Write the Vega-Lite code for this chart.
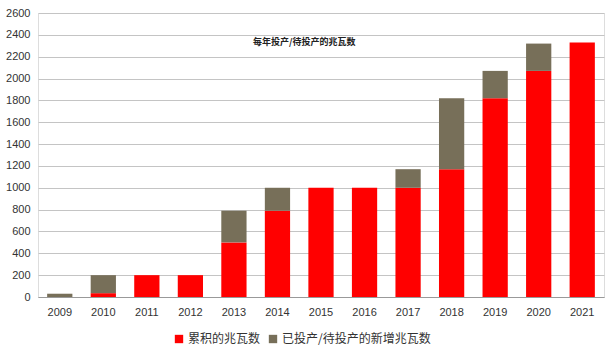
{
  "$schema": "https://vega.github.io/schema/vega-lite/v6.json",
  "width": 566,
  "height": 284,
  "autosize": {"type": "none"},
  "padding": {"left": 38, "top": 13, "right": 3, "bottom": 54},
  "background": "white",
  "title": {
    "text": "每年投产/待投产的兆瓦数",
    "font": "Noto Sans CJK SC",
    "fontSize": 9,
    "fontWeight": "bold",
    "color": "#222",
    "anchor": "start",
    "frame": "group",
    "orient": "top",
    "baseline": "top",
    "offset": 0,
    "dx": 215,
    "dy": 40
  },
  "data": {
    "values": [
      {"year": "2009", "series": "累积的兆瓦数", "ord": 1, "value": 0},
      {"year": "2009", "series": "已投产/待投产的新增兆瓦数", "ord": 2, "value": 30},
      {"year": "2010", "series": "累积的兆瓦数", "ord": 1, "value": 35},
      {"year": "2010", "series": "已投产/待投产的新增兆瓦数", "ord": 2, "value": 165},
      {"year": "2011", "series": "累积的兆瓦数", "ord": 1, "value": 200},
      {"year": "2011", "series": "已投产/待投产的新增兆瓦数", "ord": 2, "value": 0},
      {"year": "2012", "series": "累积的兆瓦数", "ord": 1, "value": 200},
      {"year": "2012", "series": "已投产/待投产的新增兆瓦数", "ord": 2, "value": 0},
      {"year": "2013", "series": "累积的兆瓦数", "ord": 1, "value": 500},
      {"year": "2013", "series": "已投产/待投产的新增兆瓦数", "ord": 2, "value": 290},
      {"year": "2014", "series": "累积的兆瓦数", "ord": 1, "value": 790},
      {"year": "2014", "series": "已投产/待投产的新增兆瓦数", "ord": 2, "value": 210},
      {"year": "2015", "series": "累积的兆瓦数", "ord": 1, "value": 1000},
      {"year": "2015", "series": "已投产/待投产的新增兆瓦数", "ord": 2, "value": 0},
      {"year": "2016", "series": "累积的兆瓦数", "ord": 1, "value": 1000},
      {"year": "2016", "series": "已投产/待投产的新增兆瓦数", "ord": 2, "value": 0},
      {"year": "2017", "series": "累积的兆瓦数", "ord": 1, "value": 1000},
      {"year": "2017", "series": "已投产/待投产的新增兆瓦数", "ord": 2, "value": 170},
      {"year": "2018", "series": "累积的兆瓦数", "ord": 1, "value": 1170},
      {"year": "2018", "series": "已投产/待投产的新增兆瓦数", "ord": 2, "value": 650},
      {"year": "2019", "series": "累积的兆瓦数", "ord": 1, "value": 1820},
      {"year": "2019", "series": "已投产/待投产的新增兆瓦数", "ord": 2, "value": 250},
      {"year": "2020", "series": "累积的兆瓦数", "ord": 1, "value": 2070},
      {"year": "2020", "series": "已投产/待投产的新增兆瓦数", "ord": 2, "value": 250},
      {"year": "2021", "series": "累积的兆瓦数", "ord": 1, "value": 2330},
      {"year": "2021", "series": "已投产/待投产的新增兆瓦数", "ord": 2, "value": 0}
    ]
  },
  "mark": {"type": "bar"},
  "encoding": {
    "x": {
      "field": "year",
      "type": "ordinal",
      "scale": {"paddingInner": 0.42, "paddingOuter": 0.21},
      "axis": {
        "title": null,
        "labelAngle": 0,
        "labelFont": "Liberation Sans",
        "labelFontSize": 11,
        "labelColor": "#333",
        "labelPadding": 9,
        "ticks": false,
        "domainColor": "#999",
        "domainWidth": 1
      }
    },
    "y": {
      "field": "value",
      "type": "quantitative",
      "stack": "zero",
      "scale": {"domain": [0, 2600], "nice": false},
      "axis": {
        "title": null,
        "format": "d",
        "values": [0, 200, 400, 600, 800, 1000, 1200, 1400, 1600, 1800, 2000, 2200, 2400, 2600],
        "labelFont": "Liberation Sans",
        "labelFontSize": 11,
        "labelColor": "#333",
        "labelPadding": 8,
        "ticks": false,
        "domain": false,
        "gridColor": "#c4c4c4",
        "gridWidth": 1
      }
    },
    "color": {
      "field": "series",
      "type": "nominal",
      "sort": ["累积的兆瓦数", "已投产/待投产的新增兆瓦数"],
      "scale": {
        "domain": ["累积的兆瓦数", "已投产/待投产的新增兆瓦数"],
        "range": ["#ff0000", "#776f59"]
      },
      "legend": {
        "title": null,
        "orient": "none",
        "direction": "horizontal",
        "legendX": 135,
        "legendY": 320,
        "symbolType": "square",
        "symbolSize": 70,
        "symbolStrokeWidth": 0,
        "labelFont": "Noto Sans CJK SC",
        "labelFontSize": 12,
        "labelLimit": 400,
        "labelColor": "#333",
        "labelOffset": 3,
        "columnPadding": 6
      }
    },
    "order": {"field": "ord", "type": "quantitative"}
  }
}
